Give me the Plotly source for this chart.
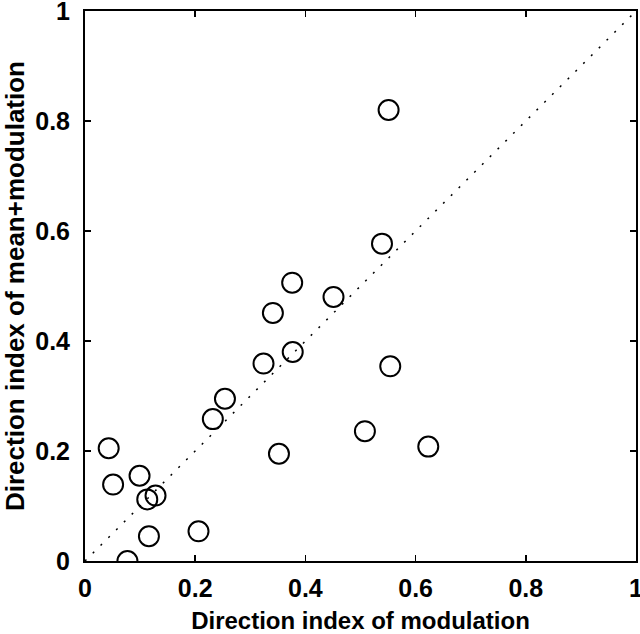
import plotly.graph_objects as go

x_mod = [0.551, 0.539, 0.376, 0.451, 0.341, 0.377, 0.324, 0.554, 0.254, 0.232,
         0.508, 0.352, 0.623, 0.043, 0.051, 0.099, 0.113, 0.128, 0.116, 0.206, 0.077]
y_meanmod = [0.82, 0.577, 0.506, 0.480, 0.451, 0.380, 0.359, 0.354, 0.295, 0.258,
             0.236, 0.195, 0.208, 0.205, 0.139, 0.155, 0.112, 0.119, 0.045, 0.054, 0.0]
diag = [0, 1]
tick_vals = [0, 0.2, 0.4, 0.6, 0.8, 1]
tick_text = ["0", "0.2", "0.4", "0.6", "0.8", "1"]

fig = go.Figure()
fig.add_trace(go.Scatter(x=diag, y=diag, mode="lines",
                         line=dict(color="black", width=1.5, dash="2px,9px"),
                         hoverinfo="skip", showlegend=False))
fig.add_trace(go.Scatter(x=x_mod, y=y_meanmod, mode="markers",
                         marker=dict(symbol="circle-open", size=20, color="black",
                                     line=dict(width=2, color="black")),
                         showlegend=False))

fam = "Liberation Sans, Arial, sans-serif"
tfont = dict(family=fam, size=25, color="black", weight="bold")
xtitfont = dict(family=fam, size=24, color="black", weight="bold")
ytitfont = dict(family=fam, size=26, color="black", weight="bold")
axis_common = dict(range=[0, 1], tickvals=tick_vals, ticktext=tick_text,
                   ticks="inside", ticklen=6, tickwidth=1.5, tickcolor="black",
                   showline=True, linecolor="black", linewidth=2, mirror="ticks",
                   showgrid=False, zeroline=False, tickfont=tfont,
                   automargin=False, ticklabeloverflow="allow")
fig.update_layout(
    width=640, height=634,
    margin=dict(l=85, r=4, t=11, b=73),
    paper_bgcolor="white", plot_bgcolor="white",
    font=tfont,
    xaxis=dict(**axis_common, ticklabelstandoff=4,
               title=dict(text="Direction index of modulation", font=xtitfont, standoff=12)),
    yaxis=dict(**axis_common, ticklabelstandoff=8,
               title=dict(text="Direction index of mean+modulation", font=ytitfont, standoff=6)),
)
fig.write_html("out.html",
               config={"displayModeBar": False, "staticPlot": True},
               post_script="document.body.style.margin='0';document.body.style.overflow='hidden';")
